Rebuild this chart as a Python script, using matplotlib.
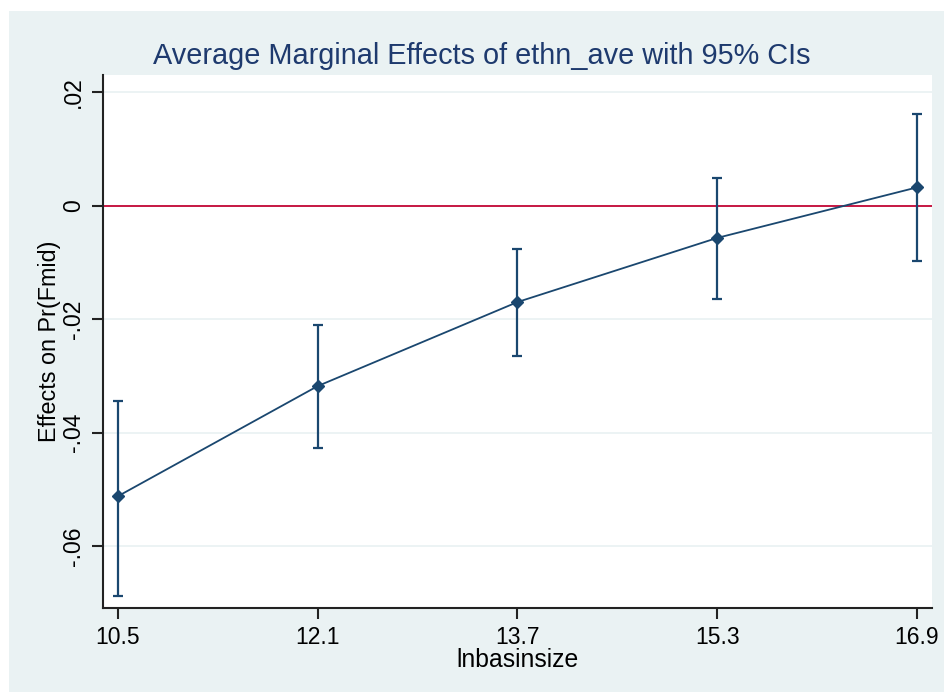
import matplotlib
matplotlib.use("Agg")
import matplotlib.pyplot as plt
from matplotlib.patches import Rectangle

# values
lnbasinsize = [10.5, 12.1, 13.7, 15.3, 16.9]
effect = [-0.0512, -0.0318, -0.0170, -0.0057, 0.0032]
ci_low = [-0.0687, -0.0427, -0.0265, -0.0164, -0.0097]
ci_high = [-0.0344, -0.0210, -0.0076, 0.0048, 0.0161]
yticks = [0.02, 0, -0.02, -0.04, -0.06]
ytick_labels = [".02", "0", "-.02", "-.04", "-.06"]

navy = "#1a476f"
bg = "#eaf2f3"

plt.rcParams['font.family'] = ['Liberation Sans', 'DejaVu Sans']

fig = plt.figure(figsize=(9.44, 6.92), dpi=100, facecolor="white")
# stata-style light outer region
fig.patches.append(Rectangle((9 / 944, 0), 1 - 9 / 944, 1 - 11 / 692,
                             transform=fig.transFigure, facecolor=bg,
                             edgecolor="none", zorder=-5))

ax = fig.add_axes([103 / 944, 1 - 608 / 692, (932 - 103) / 944, (608 - 75) / 692])
ax.set_facecolor("white")

err_lo = [e - l for e, l in zip(effect, ci_low)]
err_hi = [h - e for e, h in zip(effect, ci_high)]
ax.errorbar(lnbasinsize, effect, yerr=[err_lo, err_hi], fmt="none",
            ecolor=navy, elinewidth=1.6, capsize=3.8, capthick=1.6, zorder=3)
ax.plot(lnbasinsize, effect, color=navy, lw=1.3, marker="D", markersize=6.5,
        markerfacecolor=navy, markeredgecolor=navy, zorder=4)
ax.axhline(0, color="#c10534", lw=1.3, zorder=2)

ax.set_xlim(10.38, 17.02)
ax.set_ylim(-0.0709, 0.023)
ax.set_xticks(lnbasinsize)
ax.set_xticklabels([str(v) for v in lnbasinsize])
ax.set_yticks(yticks)
ax.set_yticklabels(ytick_labels, rotation=90, va="center")
for y in yticks:
    if y != 0:
        ax.axhline(y, color=bg, lw=1.3, zorder=1)

for s in ["top", "right"]:
    ax.spines[s].set_visible(False)
for s in ["left", "bottom"]:
    ax.spines[s].set_linewidth(1.5)
    ax.spines[s].set_color("#222222")
ax.tick_params(axis="both", length=8, width=1.5, color="#222222",
               labelsize=16.5, pad=5)

ax.set_xlabel("lnbasinsize", fontsize=17.8, labelpad=-1)
ax.set_ylabel("Effects on Pr(Fmid)", fontsize=16.8, labelpad=1)
fig.text(482 / 944, 1 - 56 / 692, "Average Marginal Effects of ethn_ave with 95% CIs",
         ha="center", va="center", fontsize=20.8, color="#1e3a6e")

fig.savefig("out.png", dpi=100, facecolor=fig.get_facecolor())
